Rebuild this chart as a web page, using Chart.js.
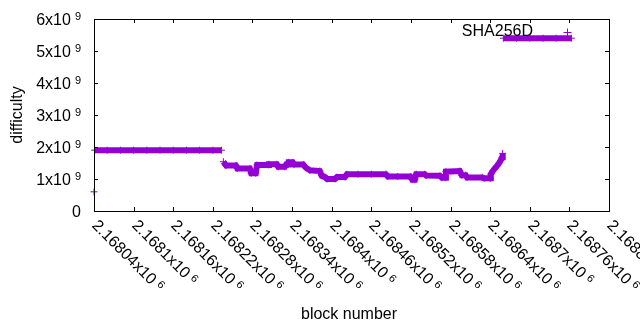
<!DOCTYPE html>
<html>
<head>
<meta charset="utf-8">
<script src="https://cdn.jsdelivr.net/npm/chart.js@4"></script>
<style>
  body { margin: 0; background: #fff; }
  canvas { display: block; }
</style>
</head>
<body>
<canvas id="myChart" width="640" height="330"></canvas>
<script>
// series colour (gnuplot dark violet)
const COLOR = "rgb(148, 0, 211)";
const FONT = "Liberation Sans, Arial, sans-serif";

// block numbers
const blocks = [
    2168040, 2168041, 2168060, 2168080, 2168100, 2168120, 2168140, 2168160,
    2168180, 2168200, 2168220, 2168233, 2168236, 2168240, 2168255, 2168257,
    2168276, 2168278, 2168285, 2168287, 2168304, 2168305, 2168317, 2168319,
    2168329, 2168331, 2168334, 2168335, 2168341, 2168343, 2168357, 2168361,
    2168367, 2168382, 2168385, 2168390, 2168393, 2168405, 2168408, 2168420,
    2168423, 2168440, 2168460, 2168482, 2168485, 2168500, 2168519, 2168522,
    2168526, 2168528, 2168541, 2168543, 2168564, 2168567, 2168572, 2168573,
    2168594, 2168597, 2168603, 2168605, 2168628, 2168631, 2168640, 2168641,
    2168644, 2168647, 2168650, 2168653, 2168656, 2168658, 2168659, 2168660,
    2168680, 2168700, 2168720, 2168740, 2168763,
];
// difficulty in units of 10^9
const difficultyG = [
    0.60, 1.90, 1.90, 1.90, 1.90, 1.90, 1.90, 1.90,
    1.90, 1.90, 1.90, 1.90, 1.54, 1.42, 1.42, 1.33,
    1.33, 1.18, 1.18, 1.44, 1.44, 1.46, 1.46, 1.38,
    1.38, 1.45, 1.45, 1.52, 1.52, 1.45, 1.45, 1.35,
    1.27, 1.25, 1.10, 1.06, 1.00, 1.00, 1.06, 1.06,
    1.15, 1.15, 1.15, 1.15, 1.08, 1.08, 1.08, 0.98,
    0.98, 1.15, 1.15, 1.11, 1.10, 1.04, 1.04, 1.23,
    1.25, 1.12, 1.12, 1.05, 1.05, 1.02, 1.02, 1.15,
    1.25, 1.33, 1.40, 1.48, 1.58, 1.68, 1.80, 5.40,
    5.40, 5.40, 5.40, 5.40, 5.40,
];

// tick positions
const xTicks = [
    2168040, 2168100, 2168160, 2168220, 2168280, 2168340, 2168400,
    2168460, 2168520, 2168580, 2168640, 2168700, 2168760, 2168820,
];
const yTicksG = [0, 1, 2, 3, 4, 5, 6];

const seriesName = "SHA256D";
const xTitle = "block number";
const yTitle = "difficulty";

// draws "base" followed by a raised exponent, starting at (x, y) baseline
function drawPower(ctx, base, exp, x, y) {
    ctx.font = "16px " + FONT;
    ctx.fillText(base, x, y);
    const w = ctx.measureText(base).width;
    ctx.font = "11px " + FONT;
    ctx.fillText(exp, x + w + 4, y - 4.5);
}
function powerWidth(ctx, base, exp) {
    ctx.font = "16px " + FONT;
    let w = ctx.measureText(base).width;
    if (exp) {
        ctx.font = "11px " + FONT;
        w += 4 + ctx.measureText(exp).width;
    }
    return w;
}

// gnuplot-like frame, inward ticks, labels and key
const gnuplotFrame = {
    id: "gnuplotFrame",
    afterDraw(chart) {
        const ctx = chart.ctx;
        const a = chart.chartArea;
        const xs = chart.scales.x;
        const ys = chart.scales.y;
        const T = 4;
        ctx.save();
        ctx.strokeStyle = "#000";
        ctx.lineWidth = 1;
        ctx.strokeRect(Math.round(a.left) + 0.5, Math.round(a.top) + 0.5,
            Math.round(a.right - a.left), Math.round(a.bottom - a.top));

        ctx.fillStyle = "#000";
        ctx.textBaseline = "alphabetic";
        ctx.textAlign = "left";

        // y ticks
        yTicksG.forEach((v) => {
            const py = Math.round(ys.getPixelForValue(v * 1e9)) + 0.5;
            ctx.beginPath();
            ctx.moveTo(a.left, py); ctx.lineTo(a.left + T, py);
            ctx.moveTo(a.right, py); ctx.lineTo(a.right - T, py);
            ctx.stroke();
            const base = v === 0 ? "0" : v + "x10";
            const exp = v === 0 ? "" : "9";
            const w = powerWidth(ctx, base, exp);
            if (exp) drawPower(ctx, base, exp, 81 - w, py + 5);
            else { ctx.font = "16px " + FONT; ctx.fillText(base, 81 - w, py + 5); }
        });

        // x ticks, rotated labels
        xTicks.forEach((v) => {
            const px = Math.round(xs.getPixelForValue(v)) + 0.5;
            ctx.beginPath();
            ctx.moveTo(px, a.bottom); ctx.lineTo(px, a.bottom - T);
            ctx.moveTo(px, a.top); ctx.lineTo(px, a.top + T);
            ctx.stroke();
            const mant = parseFloat((v / 1e6).toFixed(5)).toString();
            ctx.save();
            ctx.translate(px + 1, 222);
            ctx.rotate(Math.PI / 4);
            drawPower(ctx, mant + "x10", "6", 0, 6);
            ctx.restore();
        });

        // axis titles
        ctx.font = "16px " + FONT;
        ctx.textBaseline = "middle";
        ctx.textAlign = "center";
        ctx.fillText(xTitle, 349, 315);
        ctx.save();
        ctx.translate(18, (a.top + a.bottom) / 2);
        ctx.rotate(-Math.PI / 2);
        ctx.fillText(yTitle, 0, 0);
        ctx.restore();

        // key
        ctx.textAlign = "right";
        ctx.fillText(seriesName, 533, 32);
        ctx.strokeStyle = COLOR;
        ctx.beginPath();
        ctx.moveTo(563.5, 32.5); ctx.lineTo(571.5, 32.5);
        ctx.moveTo(567.5, 28.5); ctx.lineTo(567.5, 36.5);
        ctx.stroke();
        ctx.restore();
    },
};

window.onload = function () {
    const ctx = document.getElementById("myChart").getContext("2d");
    const points = blocks.map((b, i) => ({ x: b, y: difficultyG[i] * 1e9 }));
    new Chart(ctx, {
        type: "line",
        data: {
            datasets: [{
                label: seriesName,
                data: points,
                clip: false,
                borderColor: COLOR,
                borderWidth: 6,
                borderCapStyle: "butt",
                tension: 0,
                pointStyle: "cross",
                pointRadius: 3.5,
                pointBorderWidth: 1,
                pointBorderColor: COLOR,
                pointBackgroundColor: COLOR,
                // break the band where difficulty jumps
                segment: {
                    borderColor: (c) =>
                        Math.abs(c.p1.parsed.y - c.p0.parsed.y) > 0.3e9
                            ? "rgba(0,0,0,0)" : COLOR,
                },
            }],
        },
        options: {
            responsive: false,
            animation: false,
            layout: { padding: { left: 94, right: 31, top: 19, bottom: 119 } },
            plugins: { legend: { display: false }, tooltip: { enabled: false } },
            scales: {
                x: { type: "linear", min: 2168040, max: 2168820, display: false },
                y: { min: 0, max: 6e9, display: false },
            },
        },
        plugins: [gnuplotFrame],
    });
};
</script>
</body>
</html>
